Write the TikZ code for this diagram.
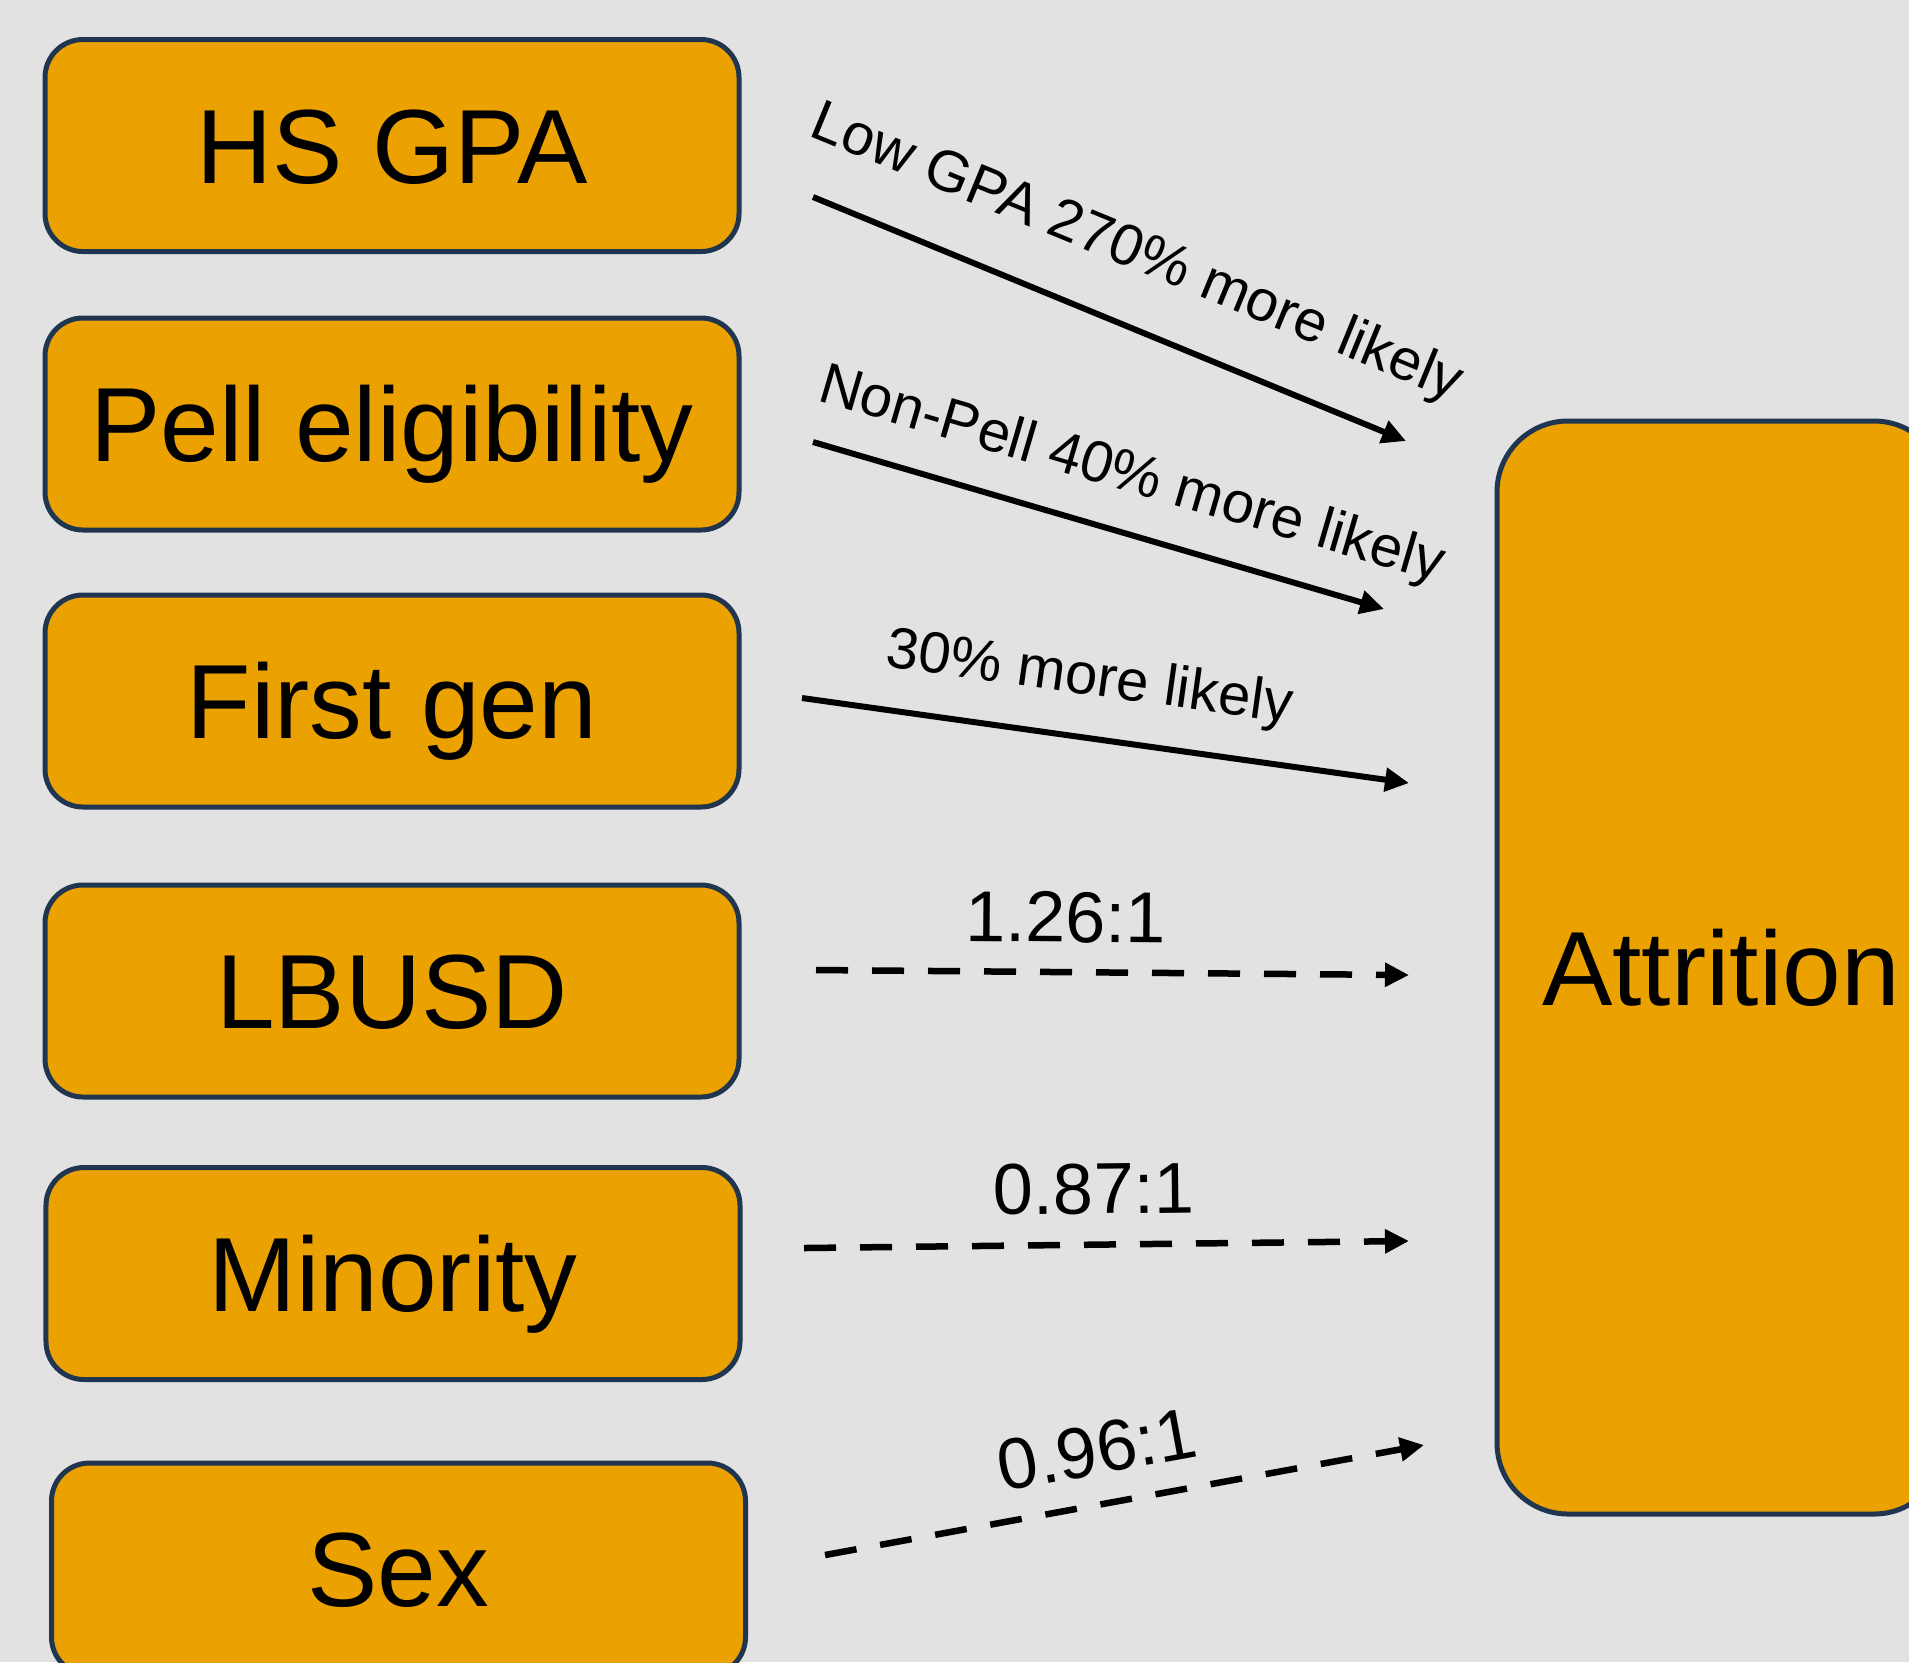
\documentclass[tikz,border=0pt]{standalone}
\usepackage{fontspec}
\setmainfont{Liberation Sans}
\usepackage{tikz}
\usetikzlibrary{positioning}
\usetikzlibrary{arrows.meta}
\usetikzlibrary{calc}
\definecolor{bgcol}{HTML}{E2E2E2}
\definecolor{boxfill}{HTML}{EBA100}
\definecolor{boxline}{HTML}{1F3550}
\tikzset{>={Triangle[length=2.4mm,width=2.3mm]}}
\tikzstyle{factor}=[draw=boxline,line width=0.5mm,fill=boxfill,shape=rectangle,rounded corners=3.8mm,minimum width=6.94cm,minimum height=2.12cm,inner sep=0pt,text height=21.5pt,text depth=0pt,font=\fontsize{30}{36}\selectfont]
\tikzstyle{outcome}=[draw=boxline,line width=0.5mm,fill=boxfill,shape=rectangle,rounded corners=7.1mm,minimum width=4.48cm,minimum height=10.93cm,inner sep=0pt,text height=21.5pt,text depth=0pt,font=\fontsize{30}{36}\selectfont]
\tikzstyle{sigarr}=[->,line width=0.6mm,color=black]
\tikzstyle{nsarr}=[->,line width=0.65mm,color=black,dash pattern=on 3.2mm off 2.4mm]
\tikzstyle{effect}=[sloped,inner sep=0pt,font=\fontsize{16.5}{20}\selectfont]
\tikzstyle{ratio}=[sloped,inner sep=0pt,font=\fontsize{20.5}{24}\selectfont]

\begin{document}
\begin{tikzpicture}
	\useasboundingbox (0,0) rectangle (19.09,-16.62);
	\fill[bgcol] (0,0) rectangle (19.09,-16.62);
	
	% Predictors
	\node[factor] (gpa) at (3.92,-1.455) {HS GPA};
	\node[factor] (pell) at (3.92,-4.24) {Pell eligibility};
	\node[factor] (firstgen) at (3.92,-7.01) {First gen};
	\node[factor] (lbusd) at (3.92,-9.91) {LBUSD};
	\node[factor] (minority) at (3.93,-12.735) {Minority};
	\node[factor] (sex) at (3.985,-15.69) {Sex};
	
	% Outcome
	\node[outcome] (attr) at (17.21,-9.675) {Attrition};
	
	% Arrow ends
	\coordinate (gpaS) at (8.13,-1.97);
	\coordinate (gpaE) at (14.06,-4.41);
	\coordinate (pellS) at (8.13,-4.42);
	\coordinate (pellE) at (13.84,-6.09);
	\coordinate (fgS) at (8.02,-6.98);
	\coordinate (fgE) at (14.09,-7.83);
	\coordinate (lbS) at (8.16,-9.70);
	\coordinate (lbE) at (14.09,-9.75);
	\coordinate (minS) at (8.04,-12.48);
	\coordinate (minE) at (14.09,-12.41);
	\coordinate (sexS) at (8.25,-15.55);
	\coordinate (sexE) at (14.24,-14.45);
	
	% Significant effects
	\draw[sigarr] (gpaS) -- node[effect, above=4mm, pos=0.5] {Low GPA 270\% more likely} (gpaE);
	\draw[sigarr] (pellS) -- node[effect, above=2.6mm, pos=0.53] {Non-Pell 40\% more likely} (pellE);
	\draw[sigarr] (fgS) -- node[effect, above=2.8mm, pos=0.46] {30\% more likely} (fgE);
	
	% Odds ratios
	\draw[nsarr] (lbS) -- node[ratio, above=2.6mm, pos=0.42] {1.26:1} (lbE);
	\draw[nsarr] (minS) -- node[ratio, above=2.7mm, pos=0.48] {0.87:1} (minE);
	\draw[nsarr] (sexS) -- node[ratio, above=2.6mm, pos=0.47] {0.96:1} (sexE);
	
\end{tikzpicture}
\end{document}
